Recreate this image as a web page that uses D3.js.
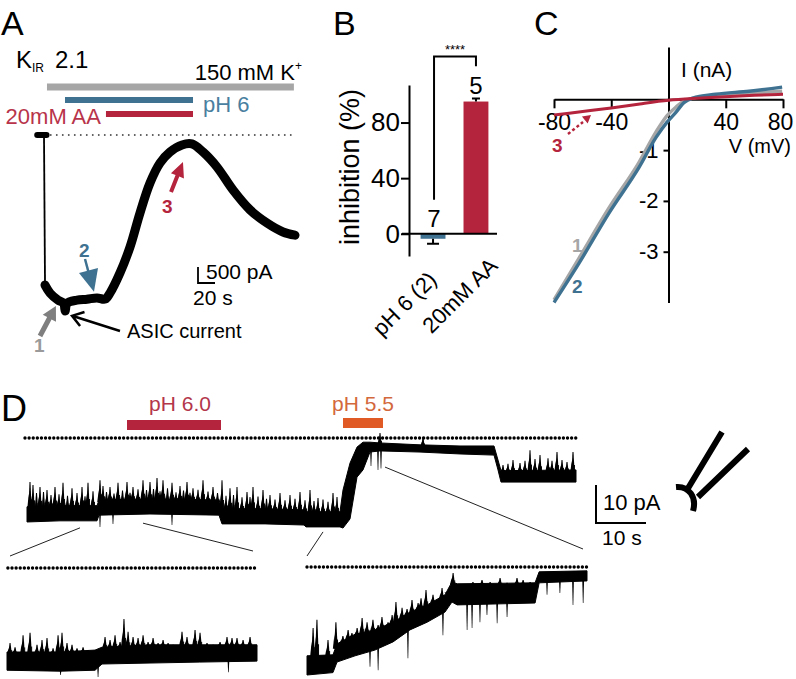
<!DOCTYPE html>
<html><head><meta charset="utf-8">
<script src="https://cdn.jsdelivr.net/npm/d3@7"></script>
<style>
body{margin:0;background:#fff}
svg{display:block}
text{font-family:"Liberation Sans",Arial,Helvetica,sans-serif;fill:#000}
</style>
</head><body>
<svg id="fig" width="796" height="679"></svg>
<script>
// ---------------- DATA ----------------
// Panel A: Kir2.1 whole-cell current trace (time s, current nA)
const aPreTime = [-8, 3];
const aPreCurrent = [0, 0];
const aTime = [1.2, 7.1, 16.5, 23, 25, 27, 38.8, 50.6, 62.4, 71.8, 77.6, 89.4, 101.2, 112.9, 124.7, 136.5, 148.2, 162.4, 174.1, 187, 203.5, 222.4, 242.4, 262.4, 281.2, 295.3];
const aCurrent = [-4.69, -4.94, -5.16, -5.26, -5.5, -5.26, -5.16, -5.13, -5.09, -5.13, -4.94, -4.31, -3.5, -2.44, -1.5, -0.875, -0.53, -0.31, -0.28, -0.53, -1.0, -1.72, -2.34, -2.75, -3.03, -3.13];
const aSolutionNames = ["150 mM K", "pH 6", "20mM AA"];
const aSolutionStart = [3.5, 24.7, 72.9];
const aSolutionEnd = [294, 175.3, 175.3];
const aZeroLine = [7, 295];

// Panel B: inhibition (%)
const bCategories = ["pH 6 (2)", "20mM AA"];
const bMeans = [-3.6, 95.1];
const bErrors = [3.6, 2.2];
const bN = ["7", "5"];
const bTicks = [0, 40, 80];
const bSignificance = "****";

// Panel C: I-V relations (V in mV, I in nA)
const cVoltage = [-80, -62.6, -41.6, -20.6, -8.7, -1, 5.3, 11, 16.4, 33, 56.3, 79.4];
const cCurrent1 = [-3.95, -3.13, -2.14, -1.24, -0.64, -0.32, -0.15, -0.03, 0.02, 0.08, 0.12, 0.16];
const cCurrent2 = [-4.0, -3.23, -2.24, -1.34, -0.75, -0.45, -0.25, -0.06, 0.02, 0.1, 0.16, 0.24];
const cVoltage3 = [-80, -60, -40, -20, 0, 20, 40, 60, 80];
const cCurrent3 = [-0.31, -0.24, -0.17, -0.09, -0.02, 0.02, 0.05, 0.08, 0.1];
const cXTicks = [-80, -40, 40, 80];
const cYTicks = [-1, -2, -3];

// Panel D: single-channel recording (time s, current pA); band = closed level / dense noise top
const dTime = [0, 6.6, 14.0, 14.4, 24.6, 38.4, 39.0, 47.6, 55.4, 55.8, 62.6, 63.2, 64.6, 66.0, 67.2, 68.6, 70.6, 78.6, 86.6, 93.4, 94.2, 94.8, 109.8];
const dLow = [-22.1, -21.8, -21.8, -20.3, -20.0, -20.3, -22.6, -22.6, -22.9, -23.4, -23.4, -23.7, -21.3, -10.3, -8.4, -3.7, -3.4, -3.7, -4.2, -4.5, -8.4, -11.6, -11.6];
const dHigh = [-18.1, -17.8, -17.8, -16.3, -16.0, -16.3, -18.6, -18.6, -18.9, -19.4, -19.4, -13.7, -6.6, -2.4, -1.1, -1.1, -1.3, -1.8, -2.1, -2.1, -5.8, -8.6, -8.4];
const dSpikeTime = [0.6,1.2,1.9,2.6,3.3,4.0,4.8,5.6,6.4,7.2,8.1,9.0,10.0,11.0,11.6,12.2,13.2,14.6,15.2,15.9,16.6,17.4,18.2,19.1,20.0,20.6,21.2,22.2,23.2,23.9,24.6,25.3,26.0,26.6,27.2,28.1,29.0,29.8,30.6,31.3,32.0,32.6,33.2,34.2,35.2,36.2,37.2,38.1,39.0,39.8,40.6,41.3,42.0,43.0,44.0,44.6,45.2,46.2,47.2,47.9,48.6,49.6,50.6,51.6,52.6,53.6,54.6,55.6,56.6,57.4,58.2,59.2,60.2,61.2,62.0,70.6,79.2,95.2,96.2,97.2,98.6,99.6,100.6,101.6,102.6,104.2,105,106,107,108,109.2];
const dSpikeCurrent = [-11.6,-12.4,-14.5,-12.9,-14.2,-13.7,-15.0,-12.9,-14.8,-11.8,-15.2,-13.2,-14.5,-12.9,-15.3,-11.8,-14.0,-11.1,-12.6,-14.2,-12.9,-14.6,-11.8,-13.8,-11.6,-14.4,-12.9,-13.5,-11.1,-13.7,-11.6,-13.4,-10.5,-14.0,-11.1,-13.2,-11.8,-14.3,-12.6,-13.8,-11.6,-14.4,-13.2,-13.6,-11.1,-14.1,-12.9,-14.5,-11.1,-15.2,-13.2,-15.0,-12.9,-15.6,-14.2,-15.5,-12.9,-15.4,-13.7,-16.0,-15.0,-16.2,-14.5,-16.4,-15.0,-16.0,-14.2,-16.4,-13.7,-16.6,-15.8,-16.2,-16.8,-14.5,-15.5,1.3,0.3,-7.1,-6.8,-5.8,-6.6,-6.0,-3.2,-5.5,-4.5,-5.3,-6.0,-3.7,-5.8,-6.3,-3.7];
const dDownTime = [14.6, 17.2, 29.0, 68.8, 70.2, 70.8];
const dDownCurrent = [-23.4, -22.6, -22.9, -7.4, -8.4, -8.0];
const dSolutionNames = ["pH 6.0", "pH 5.5"];
const dSolutionStart = [20, 63.2];
const dSolutionEnd = [38.8, 71.2];
const dInsetWindows = [[10.6, 23.2], [59.2, 71.6]];

// Panel D insets (time s from window start, current pA)
const leftTime = [0, 2.97, 4.93, 5.32, 8.01, 10.8, 14.0];
const leftLow = [-21.3, -21.5, -21.3, -20.0, -19.8, -19.6, -19.4];
const leftHigh = [-17.5, -17.5, -17.1, -16.5, -16.0, -16.0, -16.0];
const leftSpikeTime = [0.17,0.45,0.9,1.29,1.68,1.96,2.24,2.58,2.86,3.08,3.36,3.64,3.92,4.26,4.54,5.04,5.49,5.77,6.05,6.33,6.55,6.78,7.06,7.34,7.62,7.9,8.18,8.46,8.74,9.02,9.3,9.8,10.08,10.53,10.81,11.2,11.54,11.93,12.32,12.6,12.88,13.22,13.61,13.89];
const leftSpikeCurrent = [-15.6,-16.5,-14.0,-13.5,-16.0,-15.0,-14.6,-16.7,-14.0,-13.5,-15.6,-16.0,-16.7,-16.5,-17.1,-17.5,-14.4,-15.0,-14.0,-15.4,-10.6,-13.3,-14.4,-14.6,-14.0,-15.4,-14.6,-15.6,-15.0,-15.6,-16.0,-13.3,-14.4,-12.9,-13.5,-15.6,-16.0,-15.4,-14.4,-14.6,-14.6,-15.0,-14.4,-16.0];
const leftDownTime = [3.0, 5.1, 12.4];
const leftDownCurrent = [-22.3, -22.7, -21.7];

const rightTime = [0, 1.15, 1.33, 2.13, 3.01, 3.81, 4.56, 5.32, 6.11, 6.42, 6.65, 10.1, 10.28, 12.4];
const rightLow = [-22.5, -22.0, -19.8, -18.5, -17.3, -15.6, -13.1, -11.5, -9.4, -7.3, -7.9, -7.5, -3.3, -2.9];
const rightHigh = [-18.5, -18.3, -16.0, -14.0, -13.1, -11.5, -9.4, -7.9, -5.8, -3.1, -3.5, -3.3, -1.0, -0.8];
const rightSpikeTime = [0.27,0.44,0.93,1.28,1.59,1.82,1.99,2.22,2.44,2.66,2.92,3.15,3.32,3.59,3.77,3.94,4.21,4.43,4.65,4.92,5.05,5.27,5.58,5.76,5.98,6.2,6.47,6.91,7.35,7.75,8.11,8.55,8.86,9.3,9.57,9.88];
const rightSpikeCurrent = [-12.7,-11.0,-15.2,-11.5,-14.4,-13.1,-13.75,-12.7,-10.6,-11.5,-11.0,-12.1,-10.4,-11.5,-10.0,-7.3,-8.5,-8.75,-6.9,-7.5,-6.5,-4.8,-5.8,-6.9,-4.4,-5.2,-1.25,-3.75,-3.1,-2.7,-3.1,-2.3,-3.3,-2.3,-2.7,-3.1];
const rightDownTime = [2.79,3.15,4.47,6.02,7.09,7.31,7.66,7.97,8.42,8.86,10.63,11.2,11.78,12.23];
const rightDownCurrent = [-20.8,-21.5,-19.0,-14.2,-13.1,-12.7,-11.5,-10.0,-11.7,-10.4,-5.8,-5.4,-7.9,-7.5];

// ---------------- DRAWING ----------------
const svg = d3.select("#fig");
const BLUE = "#3f7291", RED = "#b4243c", GRAY = "#a6a6a6", ORANGE = "#e05a26";

function panelLabel(t, x, y, size) {
  svg.append("text").attr("x", x).attr("y", y).attr("font-size", size).text(t);
}
function arrowPoly(x1, y1, x2, y2, sw, hl, hw) {
  const dx = x2 - x1, dy = y2 - y1, L = Math.hypot(dx, dy), ux = dx / L, uy = dy / L, px = -uy, py = ux;
  const bx = x2 - ux * hl, by = y2 - uy * hl;
  return [[x1 + px * sw / 2, y1 + py * sw / 2], [bx + px * sw / 2, by + py * sw / 2], [bx + px * hw / 2, by + py * hw / 2], [x2, y2],
          [bx - px * hw / 2, by - py * hw / 2], [bx - px * sw / 2, by - py * sw / 2], [x1 - px * sw / 2, y1 - py * sw / 2]];
}
function interp(ts, vs, t) {
  if (t <= ts[0]) return vs[0];
  for (let i = 1; i < ts.length; i++) if (t <= ts[i]) {
    const f = (t - ts[i - 1]) / (ts[i] - ts[i - 1]); return vs[i - 1] + f * (vs[i] - vs[i - 1]);
  }
  return vs[vs.length - 1];
}

panelLabel("A", 1, 35, 34);
panelLabel("B", 333, 35, 34);
panelLabel("C", 534, 35, 34);
panelLabel("D", 1, 421, 36);

// ===== Panel A =====
const aX = d3.scaleLinear().domain([0, 295.3]).range([44, 295]);
const aY = d3.scaleLinear().domain([0, -5]).range([135, 295]);
const gA = svg.append("g");

gA.append("text").attr("x", 16).attr("y", 68).attr("font-size", 24)
  .text("K").append("tspan").attr("font-size", 12).attr("dy", 4).text("IR");
gA.append("text").attr("x", 55).attr("y", 68).attr("font-size", 24).text("2.1");

const barY = [87, 100, 114], barH = [7, 6, 6], barCol = [GRAY, BLUE, RED];
aSolutionNames.forEach((n, i) => {
  gA.append("rect").attr("x", aX(aSolutionStart[i])).attr("width", aX(aSolutionEnd[i]) - aX(aSolutionStart[i]))
    .attr("y", barY[i] - barH[i] / 2).attr("height", barH[i]).attr("fill", barCol[i]);
});
const kLab = gA.append("text").attr("x", 302).attr("y", 80).attr("font-size", 22).attr("text-anchor", "end").text(aSolutionNames[0]);
kLab.append("tspan").attr("font-size", 12).attr("dy", -10).text("+");
gA.append("text").attr("x", aX(aSolutionEnd[1]) + 10).attr("y", 112).attr("font-size", 22).style("fill", "#4a7fa0").text(aSolutionNames[1]);
gA.append("text").attr("x", aX(aSolutionStart[2]) - 5).attr("y", 124).attr("font-size", 22).attr("text-anchor", "end").style("fill", "#b8344a").text(aSolutionNames[2]);

gA.append("line").attr("x1", aX(aZeroLine[0])).attr("x2", aX(aZeroLine[1])).attr("y1", aY(0)).attr("y2", aY(0))
  .attr("stroke", "#333").attr("stroke-width", 1.6).attr("stroke-dasharray", "1.6,4.4");

const aLine = d3.line().x(d => aX(d[0])).y(d => aY(d[1]));
gA.append("path").datum(aPreTime.map((t, i) => [t, aPreCurrent[i]])).attr("d", aLine)
  .attr("fill", "none").attr("stroke", "#000").attr("stroke-width", 6).attr("stroke-linecap", "round");
gA.append("path").datum([[0, 0], [aTime[0], aCurrent[0]]]).attr("d", aLine)
  .attr("fill", "none").attr("stroke", "#000").attr("stroke-width", 1.8);
gA.append("path").datum(aTime.map((t, i) => [t, aCurrent[i]])).attr("d", d3.line().x(d => aX(d[0])).y(d => aY(d[1])).curve(d3.curveCatmullRom))
  .attr("fill", "none").attr("stroke", "#000").attr("stroke-width", 9).attr("stroke-linecap", "round").attr("stroke-linejoin", "round");

// arrows in A
const poly = d3.line();
gA.append("path").attr("d", poly(arrowPoly(40, 336, aX(14), aY(-5.34), 5, 14, 15)) + "Z").attr("fill", "#7f7f7f");
gA.append("text").attr("x", 34).attr("y", 352).attr("font-size", 19).attr("font-weight", "bold").style("fill", "#9a9a9a").text("1");
gA.append("line").attr("x1", 85).attr("y1", 259).attr("x2", 89).attr("y2", 274).attr("stroke", BLUE).attr("stroke-width", 2.5);
gA.append("path").attr("d", poly([[79, 273], [98, 268], [aX(58.8), aY(-4.9)]]) + "Z").attr("fill", BLUE);
gA.append("text").attr("x", 79).attr("y", 257).attr("font-size", 19).attr("font-weight", "bold").style("fill", BLUE).text("2");
gA.append("path").attr("d", poly(arrowPoly(171, 192, aX(163.5), aY(-0.84), 4, 15, 14)) + "Z").attr("fill", RED);
gA.append("text").attr("x", 162).attr("y", 213).attr("font-size", 19).attr("font-weight", "bold").style("fill", RED).text("3");
// ASIC current open arrow
(function () {
  const x1 = 120, y1 = 331, x2 = aX(33), y2 = aY(-5.65);
  const a = Math.atan2(y1 - y2, x1 - x2), L = 13, sp = 0.6;
  gA.append("path").attr("d", `M${x1},${y1}L${x2},${y2}M${x2 + L * Math.cos(a + sp)},${y2 + L * Math.sin(a + sp)}L${x2},${y2}L${x2 + L * Math.cos(a - sp)},${y2 + L * Math.sin(a - sp)}`)
    .attr("fill", "none").attr("stroke", "#000").attr("stroke-width", 2.5);
})();
gA.append("text").attr("x", 127).attr("y", 338).attr("font-size", 20).text("ASIC current");
// scale bar A
const sbx = 198, sby = 283;
gA.append("path").attr("d", `M${sbx},${sby - (aY(-0.5) - aY(0))}V${sby}H${sbx + aX(20) - aX(0)}`)
  .attr("fill", "none").attr("stroke", "#000").attr("stroke-width", 1.8);
gA.append("text").attr("x", 206).attr("y", 279).attr("font-size", 21).text("500 pA");
gA.append("text").attr("x", 193).attr("y", 305).attr("font-size", 21).text("20 s");

// ===== Panel B =====
const gB = svg.append("g");
const bx = d3.scaleBand().domain(bCategories).range([409, 500]).paddingInner(0.42).paddingOuter(0.27);
const by = d3.scaleLinear().domain([107, -16]).range([85, 256]);
const bAxis = gB.append("g").attr("transform", "translate(409,0)")
  .call(d3.axisLeft(by).tickValues(bTicks).tickSize(8).tickSizeOuter(0).tickPadding(1).tickFormat(d3.format("d")));
bAxis.select(".domain").attr("stroke-width", 2);
bAxis.selectAll(".tick line").attr("stroke-width", 2);
bAxis.selectAll("text").attr("font-size", 26).style("font-family", '"Liberation Sans",Arial,sans-serif');
const bCols = [BLUE, RED];
bCategories.forEach((c, i) => {
  const x0 = bx(c), w = bx.bandwidth(), cxm = x0 + w / 2;
  gB.append("rect").attr("x", x0).attr("width", w).attr("y", by(Math.max(0, bMeans[i])))
    .attr("height", Math.abs(by(bMeans[i]) - by(0))).attr("fill", bCols[i]);
  const ee = bMeans[i] + Math.sign(bMeans[i]) * bErrors[i];
  const cw = i === 0 ? 6 : 4;
  gB.append("path").attr("d", `M${cxm},${by(bMeans[i])}V${by(ee)}M${cxm - cw},${by(ee)}H${cxm + cw}`)
    .attr("stroke", "#000").attr("stroke-width", 2).attr("fill", "none");
});
gB.append("line").attr("x1", 402).attr("x2", 497).attr("y1", by(0)).attr("y2", by(0)).attr("stroke", "#000").attr("stroke-width", 2);
gB.append("text").attr("x", bx(bCategories[0]) + bx.bandwidth() / 2 + 1).attr("y", by(5)).attr("font-size", 24).attr("text-anchor", "middle").text(bN[0]);
gB.append("text").attr("x", bx(bCategories[1]) + bx.bandwidth() / 2).attr("y", by(100.5)).attr("font-size", 24).attr("text-anchor", "middle").text(bN[1]);
const c0 = bx(bCategories[0]) + bx.bandwidth() / 2 + 1, c1 = bx(bCategories[1]) + bx.bandwidth() / 2;
gB.append("path").attr("d", `M${c0},${by(24.5)}V${by(127.5)}H${c1}V${by(120.5)}`).attr("fill", "none").attr("stroke", "#000").attr("stroke-width", 2);
gB.append("text").attr("x", (c0 + c1) / 2).attr("y", by(129.5)).attr("font-size", 13).attr("text-anchor", "middle").text(bSignificance);
gB.append("text").attr("transform", "translate(359,167) rotate(-90)").attr("font-size", 27).attr("text-anchor", "middle").text("inhibition (%)");
const bLabAnchor = [[438, 281], [499, 267]];
bCategories.forEach((c, i) => {
  gB.append("text").attr("transform", `translate(${bLabAnchor[i][0]},${bLabAnchor[i][1]}) rotate(-45)`)
    .attr("font-size", 22).attr("text-anchor", "end").text(c);
});

// ===== Panel C =====
const gC = svg.append("g");
const cx = d3.scaleLinear().domain([-80, 80]).range([554, 783]);
const cy = d3.scaleLinear().domain([1.03, -4.0]).range([47, 302.5]);
const cxa = gC.append("g").attr("transform", `translate(0,${cy(0)})`)
  .call(d3.axisBottom(cx).tickValues(cXTicks).tickSize(9).tickSizeOuter(0).tickPadding(5).tickFormat(d => d < 0 ? "-" + Math.abs(d) : d));
const cya = gC.append("g").attr("transform", `translate(${cx(0)},0)`)
  .call(d3.axisLeft(cy).tickValues(cYTicks).tickSize(5).tickSizeOuter(0).tickPadding(5).tickFormat(d => "-" + Math.abs(d)));
[cxa, cya].forEach(a => {
  a.select(".domain").attr("stroke-width", 2);
  a.selectAll(".tick line").attr("stroke-width", 2);
  a.selectAll("text").style("font-family", '"Liberation Sans",Arial,sans-serif');
});
cxa.selectAll("text").attr("font-size", 23).attr("dx", d => d === 80 ? -3 : 0);
cya.selectAll("text").attr("font-size", 22);
gC.append("text").attr("x", 681).attr("y", 77).attr("font-size", 21).text("I (nA)");
gC.append("text").attr("x", 791).attr("y", 153).attr("font-size", 20).attr("text-anchor", "end").text("V (mV)");
const cLine = d3.line().x(d => cx(d[0])).y(d => cy(d[1])).curve(d3.curveMonotoneX);
gC.append("path").datum(cVoltage.map((v, i) => [v, cCurrent1[i]])).attr("d", cLine).attr("fill", "none").attr("stroke", GRAY).attr("stroke-width", 3.4);
gC.append("path").datum(cVoltage.map((v, i) => [v, cCurrent2[i]])).attr("d", cLine).attr("fill", "none").attr("stroke", BLUE).attr("stroke-width", 3.4);
gC.append("path").datum(cVoltage3.map((v, i) => [v, cCurrent3[i]])).attr("d", cLine).attr("fill", "none").attr("stroke", RED).attr("stroke-width", 3);
gC.append("text").attr("x", 572).attr("y", 252).attr("font-size", 19).attr("font-weight", "bold").style("fill", GRAY).text("1");
gC.append("text").attr("x", 572).attr("y", 293).attr("font-size", 19).attr("font-weight", "bold").style("fill", BLUE).text("2");
gC.append("text").attr("x", 552).attr("y", 152).attr("font-size", 19).attr("font-weight", "bold").style("fill", RED).text("3");
gC.append("line").attr("x1", 568).attr("y1", 134).attr("x2", 583).attr("y2", 122).attr("stroke", RED).attr("stroke-width", 2.5).attr("stroke-dasharray", "3,2.5");
gC.append("path").attr("d", poly(arrowPoly(580, 124, 591, 115, 0.1, 8, 9)) + "Z").attr("fill", RED);

// ===== Panel D =====
const gD = svg.append("g");
const dX = d3.scaleLinear().domain([0, 109.8]).range([27, 576]);
const dY = d3.scaleLinear().domain([0, -10]).range([438, 476]);

function drawTrace(g, xs, ys, T, LO, HI, sT, sI, dnT, dnI, x0t, x1t, halfW) {
  g.append("line").attr("x1", xs(x0t)).attr("x2", xs(x1t)).attr("y1", ys(0)).attr("y2", ys(0))
    .attr("stroke", "#000").attr("stroke-width", 3.4).attr("stroke-linecap", "round").attr("stroke-dasharray", "0.01,4.1");
  g.append("path").datum(T.map((t, i) => [t, LO[i], HI[i]]))
    .attr("d", d3.area().x(d => xs(d[0])).y0(d => ys(d[1])).y1(d => ys(d[2])))
    .attr("fill", "#000").attr("stroke", "#000").attr("stroke-width", 1);
  // upward noise spikes (openings) as narrow slivers rooted in the noise band
  sT.forEach((t, i) => {
    const base = ys(interp(T, HI, t)) + 2, x = xs(t), top = ys(sI[i]);
    g.append("path").attr("d", `M${x - halfW},${base}L${x - 0.5},${top}L${x + 0.5},${top}L${x + halfW},${base}Z`).attr("fill", "#000");
    g.append("path").attr("d", `M${x - halfW * 1.7},${base}L${x - halfW * 0.8},${base - (base - top) * 0.55}L${x - halfW * 0.2},${base}Z`).attr("fill", "#000");
    g.append("line").attr("x1", x + halfW * 0.9).attr("x2", x + halfW * 0.9).attr("y1", base).attr("y2", base - (base - top) * 0.35).attr("stroke", "#000").attr("stroke-width", 1);
  });
  dnT.forEach((t, i) => {
    const base = ys(interp(T, LO, t)) - 2, x = xs(t), bot = ys(dnI[i]);
    g.append("path").attr("d", `M${x - 0.9},${base}L${x - 0.3},${bot}L${x + 0.3},${bot}L${x + 0.9},${base}Z`).attr("fill", "#000");
  });
}
// solution bars
const dBarY = [425, 423], dCols = [RED, ORANGE], dTxtCols = ["#b3364b", "#d3683c"], dTxtOff = [6, 0];
dSolutionNames.forEach((n, i) => {
  gD.append("rect").attr("x", dX(dSolutionStart[i])).attr("width", dX(dSolutionEnd[i]) - dX(dSolutionStart[i]))
    .attr("y", dBarY[i] - 5).attr("height", 10).attr("fill", dCols[i]);
  gD.append("text").attr("x", (dX(dSolutionStart[i]) + dX(dSolutionEnd[i])) / 2 + dTxtOff[i]).attr("y", 411)
    .attr("font-size", 21).attr("text-anchor", "middle").style("fill", dTxtCols[i]).text(n);
});
drawTrace(gD, dX, dY, dTime, dLow, dHigh, dSpikeTime, dSpikeCurrent, dDownTime, dDownCurrent, -0.4, 109.8, 1.6);

const lX = d3.scaleLinear().domain([0, 14]).range([7, 257]);
const lY = d3.scaleLinear().domain([0, -10]).range([568, 616]);
drawTrace(gD, lX, lY, leftTime, leftLow, leftHigh, leftSpikeTime, leftSpikeCurrent, leftDownTime, leftDownCurrent, 0.05, 13.9, 1.8);
const rX = d3.scaleLinear().domain([0, 12.4]).range([307, 587]);
const rY = d3.scaleLinear().domain([0, -10]).range([567, 615]);
drawTrace(gD, rX, rY, rightTime, rightLow, rightHigh, rightSpikeTime, rightSpikeCurrent, rightDownTime, rightDownCurrent, 0, 12.4, 1.8);

// connector lines
const conn = [
  [dX(dInsetWindows[0][0]), dY(interp(dTime, dLow, dInsetWindows[0][0])) + 7, lX(0) + 3, 556],
  [dX(dInsetWindows[0][1]), dY(interp(dTime, dLow, dInsetWindows[0][1])) + 9, lX(14) - 4, 551],
  [dX(dInsetWindows[1][0]), dY(interp(dTime, dLow, dInsetWindows[1][0])) + 5, rX(0), 556],
  [dX(dInsetWindows[1][1]), dY(interp(dTime, dLow, dInsetWindows[1][1])) + 16, rX(12.4) - 4, 549]
];
conn.forEach(c => gD.append("line").attr("x1", c[0]).attr("y1", c[1]).attr("x2", c[2]).attr("y2", c[3]).attr("stroke", "#222").attr("stroke-width", 1));

// scale bar D
const dsx = 596, dsy = 523;
gD.append("path").attr("d", `M${dsx},${dsy - (dY(-10) - dY(0))}V${dsy}H${dsx + dX(10) - dX(0)}`)
  .attr("fill", "none").attr("stroke", "#000").attr("stroke-width", 2);
gD.append("text").attr("x", 603).attr("y", 510).attr("font-size", 22).text("10 pA");
gD.append("text").attr("x", 602).attr("y", 545).attr("font-size", 21).text("10 s");

// pipette icon
gD.append("path").attr("d", "M722,432L687,490M748,449L698,497M676,487C689,486 697,497 693,511")
  .attr("fill", "none").attr("stroke", "#000").attr("stroke-width", 6);
</script>
</body></html>
